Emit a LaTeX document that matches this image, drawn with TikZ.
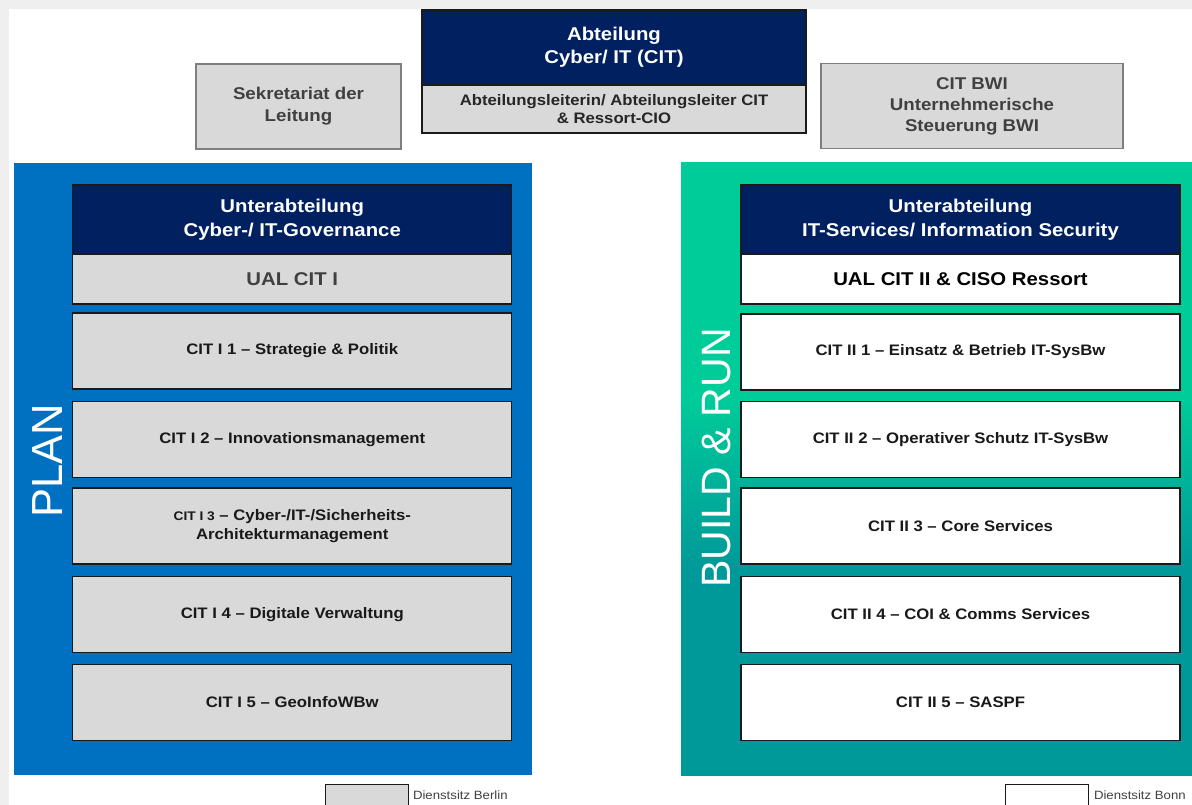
\documentclass[tikz,border=0pt]{standalone}
\usepackage{fontspec}
\setmainfont{Liberation Sans}[FakeStretch=1.1]
\newfontfamily\plainsans{Liberation Sans}
\definecolor{navy}{HTML}{002060}
\definecolor{boxgray}{HTML}{D9D9D9}
\definecolor{boxline}{HTML}{1A1A1A}
\definecolor{topline}{HTML}{7F7F7F}
\definecolor{planblue}{HTML}{0070C0}
\definecolor{rungreen}{HTML}{00CC99}
\definecolor{runteal}{HTML}{009999}
\definecolor{txtgray}{HTML}{404040}
\definecolor{framegray}{HTML}{EFEFEF}
\pgfdeclareverticalshading{runshade}{100bp}{color(0bp)=(runteal); color(42bp)=(runteal); color(56bp)=(rungreen); color(100bp)=(rungreen)}
\begin{document}
\begin{tikzpicture}[x=1pt,y=-1pt,
  every node/.style={inner sep=0pt, outer sep=0pt, align=center},
  panel/.style={minimum height=612pt},
  headbox/.style={draw=boxline, line width=1.2pt, fill=navy, text=white, font=\bfseries\fontsize{18.5}{24}\selectfont, minimum width=439pt, minimum height=69pt},
  ualbox/.style={draw=boxline, line width=1.2pt, minimum width=439pt, minimum height=50pt},
  unitbox/.style={draw=boxline, line width=1.3pt, minimum width=439pt, minimum height=76pt, font=\bfseries\fontsize{15.2}{19}\selectfont, text=black!90},
  berlin/.style={fill=boxgray},
  bonn/.style={fill=white},
  sidebox/.style={draw=topline, line width=1.2pt, fill=boxgray, text=txtgray, font=\bfseries},
  vlabel/.style={rotate=90, text=white},
  legbox/.style={draw=boxline, line width=0.9pt, minimum width=83pt, minimum height=22pt},
  legtext/.style={anchor=west, text=txtgray, font=\fontsize{12}{14}\selectfont}
]
% background and frame
\fill[framegray] (0,0) rectangle (1192,805);
\fill[white] (9,9) rectangle (1192,805);
\useasboundingbox (0,0) rectangle (1192,805);

% top row
\node[sidebox, minimum width=205pt, minimum height=85pt, font=\bfseries\fontsize{17}{22}\selectfont] (sek) at (298.5,106.5) {Sekretariat der\\Leitung};
\node[draw=boxline, line width=1.2pt, fill=navy, text=white, minimum width=384pt, minimum height=75pt, font=\bfseries\fontsize{18.5}{23}\selectfont] (abt) at (614,47.5) {Abteilung\\Cyber/ IT (CIT)};
\node[draw=boxline, line width=1.2pt, fill=boxgray, text=black!85, minimum width=384pt, minimum height=48pt, font=\bfseries\fontsize{15.2}{18}\selectfont, anchor=north] (al) at (abt.south) {Abteilungsleiterin/ Abteilungsleiter CIT\\\& Ressort-CIO};
\node[sidebox, minimum width=302pt, minimum height=85pt, font=\bfseries\fontsize{17}{21}\selectfont] (bwi) at (972,106) {CIT BWI\\Unternehmerische\\Steuerung BWI};

% left panel (PLAN)
\node[panel, fill=planblue, minimum width=518pt] (plan) at (273,469) {};
\node[vlabel, font=\plainsans\fontsize{43.5}{44}\selectfont] (planlbl) at (48,461) {PLAN};
\node[headbox] (h1) at (292.25,219.5) {Unterabteilung\\Cyber-/ IT-Governance};
\node[ualbox, berlin, text=txtgray, font=\bfseries\fontsize{18.5}{22}\selectfont] (ual1) at (292.25,279) {UAL CIT I};
\node[unitbox, berlin] (a1) at (292.25,351) {CIT I 1 – Strategie \& Politik};
\node[unitbox, berlin] (a2) at (292.25,439.5) {CIT I 2 – Innovationsmanagement};
\node[unitbox, berlin] (a3) at (292.25,526) {{\fontsize{12.5}{19}\selectfont CIT I 3} – Cyber-/IT-/Sicherheits-\\Architekturmanagement};
\node[unitbox, berlin] (a4) at (292.25,614.5) {CIT I 4 – Digitale Verwaltung};
\node[unitbox, berlin] (a5) at (292.25,702.5) {CIT I 5 – GeoInfoWBw};

% right panel (BUILD & RUN)
\node[panel, shading=runshade, minimum width=511pt] (run) at (936.5,469) {};
\node[vlabel, font=\plainsans\fontsize{41}{42}\selectfont] (runlbl) at (717,458) {BUILD \& RUN};
\node[headbox] (h2) at (960.5,219.5) {Unterabteilung\\IT-Services/ Information Security};
\node[ualbox, bonn, text=black, font=\bfseries\fontsize{18.5}{22}\selectfont] (ual2) at (960.5,279) {UAL CIT II \& CISO Ressort};
\node[unitbox, bonn] (b1) at (960.5,352) {CIT II 1 – Einsatz \& Betrieb IT-SysBw};
\node[unitbox, bonn] (b2) at (960.5,439.5) {CIT II 2 – Operativer Schutz IT-SysBw};
\node[unitbox, bonn] (b3) at (960.5,526) {CIT II 3 – Core Services};
\node[unitbox, bonn] (b4) at (960.5,614.5) {CIT II 4 – COI \& Comms Services};
\node[unitbox, bonn] (b5) at (960.5,702.5) {CIT II 5 – SASPF};

% legend
\node[legbox, berlin] (legb) at (366.5,795) {};
\node[legtext] (legbt) at (413,795) {Dienstsitz Berlin};
\node[legbox, bonn] (legn) at (1046.5,795) {};
\node[legtext] (legnt) at (1094,795) {Dienstsitz Bonn};
\end{tikzpicture}
\end{document}
